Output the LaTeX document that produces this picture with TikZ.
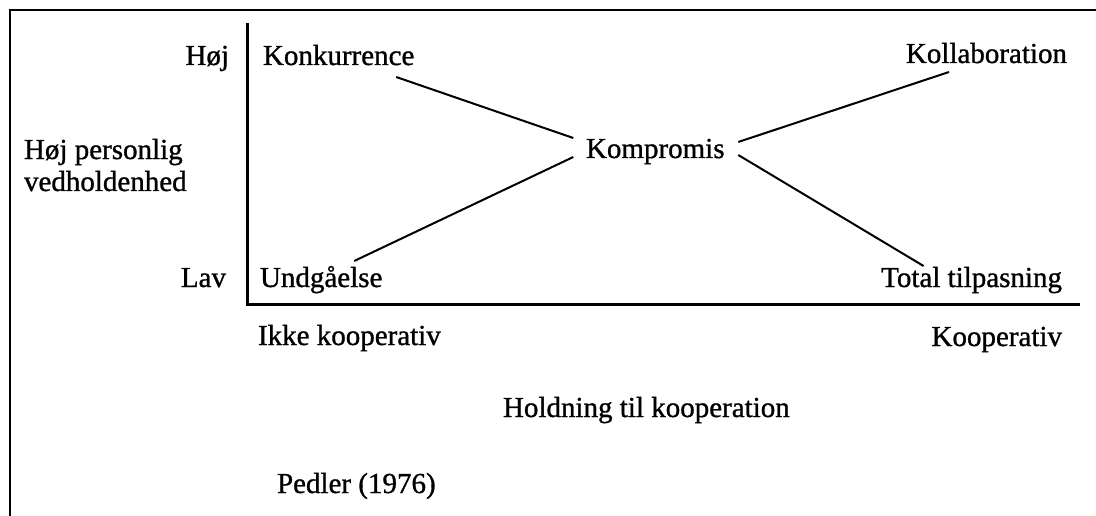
\documentclass[tikz,border=0pt]{standalone}
\usepackage{fontspec}
\setmainfont[FakeBold=1]{Liberation Serif}

\begin{document}
\begin{tikzpicture}[x=1pt,y=-1pt,line width=2pt,
    lbl/.style={inner sep=3pt,font=\fontsize{29}{32}\selectfont},
    axis/.style={line width=3pt}]
      \pgfmathsetmacro{\ax}{247}
      \pgfmathsetmacro{\ay}{304}
      \useasboundingbox (0,0) rectangle (1096,516);

      % frame (only top and left edge are inside the picture)
      \coordinate (F0) at (10,516);
      \coordinate (F1) at (10,10);
      \coordinate (F2) at (1096,10);
      \draw (F0) -- (F1) -- (F2);

      % axes
      \coordinate (O) at (\ax,\ay);
      \coordinate (Ytop) at (\ax,23);
      \coordinate (Xend) at (1080,\ay);
      \draw[axis] (Ytop) -- (O) -- (Xend);

      \node[lbl,anchor=base east] (Hoj) at (233,65) {Høj};
      \node[lbl,anchor=base east] (Lav) at (230,287) {Lav};
      \node[lbl,anchor=base west,align=left] (Pers) at (20,191) {Høj personlig\\vedholdenhed};

      \node[lbl,anchor=base west] (Konk) at (259,65) {Konkurrence};
      \node[lbl,anchor=base east] (Koll) at (1071,63) {Kollaboration};
      \node[lbl,anchor=base west] (Komp) at (582,158) {Kompromis};
      \node[lbl,anchor=base west] (Undg) at (256,287) {Undgåelse};
      \node[lbl,anchor=base east] (Total) at (1066,287) {Total tilpasning};

      \node[lbl,anchor=base west] (Ikke) at (254,345) {Ikke kooperativ};
      \node[lbl,anchor=base east] (Koop) at (1066,346) {Kooperativ};
      \node[lbl,anchor=base west] (Hold) at (499,417) {Holdning til kooperation};
      \node[lbl,anchor=base west] (Pedl) at (273,493) {Pedler (1976)};

      \draw ([shift={(57.5,12)}]Konk.base) -- ([shift={(-82,-20)}]Komp.base);
      \draw ([shift={(-37.5,9)}]Koll.base) -- ([shift={(83,-16)}]Komp.base);
      \draw ([shift={(33,-26)}]Undg.base) -- ([shift={(-82,-1)}]Komp.base);
      \draw ([shift={(-48,-21)}]Total.base) -- ([shift={(83,-3)}]Komp.base);
    \end{tikzpicture}
\end{document}
